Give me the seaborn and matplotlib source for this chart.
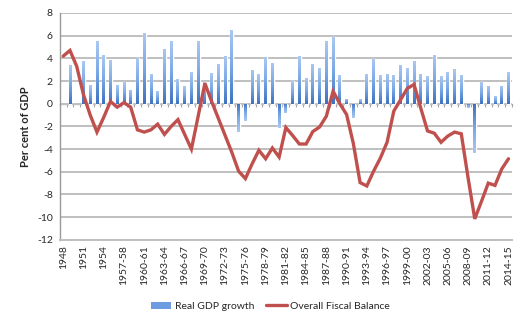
import numpy as np
import pandas as pd
import matplotlib
matplotlib.use("Agg")
import matplotlib.pyplot as plt
import seaborn as sns
from matplotlib.colors import LinearSegmentedColormap
from matplotlib.lines import Line2D
from matplotlib.patches import Patch

periods = ["1948", "1949", "1950", "1951", "1952", "1953", "1954", "1955", "1956",
           "1957-58", "1958-59", "1959-60", "1960-61", "1961-62", "1962-63", "1963-64",
           "1964-65", "1965-66", "1966-67", "1967-68", "1968-69", "1969-70", "1970-71",
           "1971-72", "1972-73", "1973-74", "1974-75", "1975-76", "1976-77", "1977-78",
           "1978-79", "1979-80", "1980-81", "1981-82", "1982-83", "1983-84", "1984-85",
           "1985-86", "1986-87", "1987-88", "1988-89", "1989-90", "1990-91", "1991-92",
           "1992-93", "1993-94", "1994-95", "1995-96", "1996-97", "1997-98", "1998-99",
           "1999-00", "2000-01", "2001-02", "2002-03", "2003-04", "2004-05", "2005-06",
           "2006-07", "2007-08", "2008-09", "2009-10", "2010-11", "2011-12", "2012-13",
           "2013-14", "2014-15"]

gdp_growth = [np.nan, 3.4, np.nan, 3.76, 1.63, 5.54, 4.3, 3.85, 1.63,
              1.93, 1.24, 4.0, 6.28, 2.66, 1.1, 4.87,
              5.52, 2.14, 1.55, 2.78, 5.52, 1.9, 2.7,
              3.47, 4.18, 6.53, -2.5, -1.56, 3.0, 2.59,
              4.12, 3.62, -2.15, -0.85, 1.97, 4.18, 2.26,
              3.53, 3.15, 5.5, 5.88, 2.5, 0.45, -1.25,
              0.42, 2.6, 3.91, 2.51, 2.66, 2.54, 3.45,
              3.13, 3.75, 2.66, 2.42, 4.28, 2.42, 2.81,
              3.05, 2.52, -0.36, -4.3, 1.93, 1.6, 0.65,
              1.6, 2.81]

fiscal_balance = [4.2, 4.7, 3.3, 0.8, -1.0, -2.5, -1.2, 0.2, -0.3,
                  0.1, -0.3, -2.3, -2.5, -2.3, -1.8, -2.7,
                  -2.0, -1.4, -2.7, -4.0, -1.1, 1.8, 0.2,
                  -1.3, -2.8, -4.3, -5.95, -6.6, -5.3, -4.1,
                  -4.85, -3.9, -4.7, -2.1, -2.8, -3.55, -3.55,
                  -2.45, -2.05, -1.1, 1.1, 0.0, -0.95, -3.5,
                  -6.95, -7.25, -5.95, -4.8, -3.4, -0.65, 0.35,
                  1.35, 1.7, -0.4, -2.4, -2.6, -3.4, -2.85,
                  -2.5, -2.65, -6.5, -10.15, -8.6, -7.0, -7.2,
                  -5.75, -4.85]

y_ticks = [-12, -10, -8, -6, -4, -2, 0, 2, 4, 6, 8]

sns.set_style("white")
plt.rcParams["font.family"] = ["Lato", "DejaVu Sans"]

df = pd.DataFrame({"period": periods, "gdp": gdp_growth, "balance": fiscal_balance})
df["pos"] = np.arange(len(df))

bar_color = "#6d9de0"
line_color = "#c0504d"
grid_color = "#bfbfbf"

fig, ax = plt.subplots(figsize=(5.25, 3.25), dpi=100)
fig.subplots_adjust(left=0.114, right=0.975, top=0.96, bottom=0.262)

sns.barplot(data=df, x="period", y="gdp", order=periods, color=bar_color,
            saturation=1, width=0.42, errorbar=None, ax=ax, zorder=2)

# gradient fill on bars
cmap = LinearSegmentedColormap.from_list("g", ["#3d72c0", "#7aa8e6", "#abc8f1"])
for p in list(ax.patches):
    h = p.get_height()
    if h is None or not np.isfinite(h) or h == 0:
        continue
    x0 = p.get_x()
    w = p.get_width()
    y0 = p.get_y()
    grad = np.linspace(0, 1, 64).reshape(-1, 1)
    if h > 0:
        extent = (x0, x0 + w, y0, y0 + h)
        img = grad
    else:
        extent = (x0, x0 + w, y0 + h, y0)
        img = grad[::-1]
    im = ax.imshow(img, extent=extent, origin="lower", aspect="auto", cmap=cmap,
                   vmin=0, vmax=1, zorder=2.1)
    im.set_clip_path(p)

sns.lineplot(data=df, x="pos", y="balance", color=line_color, lw=2.4, ax=ax,
             zorder=3, solid_joinstyle="miter")

ax.set_xlim(-0.5, len(periods) - 0.5)
ax.set_ylim(-12, 8)
ax.set_yticks(y_ticks)
ax.set_yticklabels([str(v) for v in y_ticks], fontsize=7.5)
ax.set_xticks(np.arange(0, len(periods), 3))
ax.set_xticklabels(periods[::3], rotation=90, fontsize=7.5)
ax.tick_params(axis="x", length=0, pad=4)
ax.tick_params(axis="y", length=3, color="#999999", pad=2, direction="out")
ax.set_xlabel("")
ax.set_ylabel("Per cent of GDP", fontsize=8, fontweight="bold", labelpad=4)

ax.yaxis.grid(True, color=grid_color, lw=1.4)
ax.xaxis.grid(False)
ax.set_axisbelow(True)
for s in ["top", "right"]:
    ax.spines[s].set_visible(False)
ax.spines["left"].set_color("#999999")
ax.spines["left"].set_linewidth(1.0)
ax.spines["bottom"].set_color(grid_color)
ax.spines["bottom"].set_linewidth(1.4)

# category axis crossing at zero with small tick marks
sec = ax.secondary_xaxis(0.6)
sec.set_xticks(np.arange(-0.5, len(periods), 1))
sec.tick_params(axis="x", length=2.5, width=0.8, color="#a6a6a6", direction="in",
                labeltop=False, labelbottom=False)
for s in sec.spines.values():
    s.set_color("#a6a6a6")
    s.set_linewidth(0.9)

handles = [Patch(facecolor=bar_color, edgecolor="none"),
           Line2D([0], [0], color=line_color, lw=2.4)]
fig.legend(handles, ["Real GDP growth", "Overall Fiscal Balance"], loc="center",
           bbox_to_anchor=(0.515, 0.058), ncol=2, frameon=False, fontsize=7.5,
           handlelength=2.0, columnspacing=1.2, handletextpad=0.3)

fig.savefig("out.png", dpi=100)
